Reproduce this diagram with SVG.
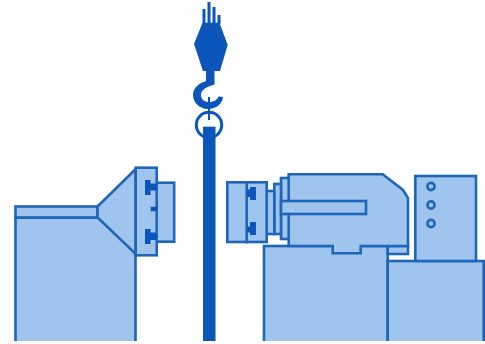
<svg xmlns="http://www.w3.org/2000/svg" width="485" height="344" viewBox="0 0 485 344">
<defs><clipPath id="c"><rect x="0" y="0" width="485" height="341"/></clipPath></defs>
<style>
.b{fill:#9fc4ee;stroke:#1f66b8;stroke-width:2.6;stroke-linejoin:miter}
.d{fill:#0c55bb;stroke:none}
.l{fill:none;stroke:#0c55bb;stroke-width:3}
.r{fill:none;stroke:#1f66b8;stroke-width:2.6}
</style>
<rect width="485" height="344" fill="#fff"/>
<g id="left-machine" clip-path="url(#c)">
<rect class="b" x="15.5" y="217.5" width="120" height="130"/>
<rect class="b" x="15.5" y="206.5" width="82" height="11"/>
<path class="b" d="M97.5 206.5L135.7 169V254L97.5 217.5Z"/>
<rect class="b" x="156.7" y="182.7" width="17.5" height="59"/>
<rect class="b" x="135.7" y="167.7" width="21" height="87.6"/>
<path class="d" d="M145 180h5.5v3.5h6.2v7h-6.2v4.5h-5.5zM145 229h5.5v3.5h6.2v7.5h-6.2v4h-5.5zM150.7 206.7h6v4.6h-6z"/>
</g>
<g id="right-machine" clip-path="url(#c)">
<rect class="b" x="264" y="246" width="123.7" height="102"/>
<rect class="b" x="387.7" y="261" width="96" height="87"/>
<rect class="b" x="415.3" y="176" width="60.7" height="85"/>
<rect class="b" x="387.7" y="246" width="20.3" height="8"/>
<path class="b" d="M288.7 174.3H382.7L403 190L408 198V246H360.7V253.3H332.7V246H288.7Z"/>
<rect class="b" x="281" y="178" width="7.7" height="61"/>
<rect class="b" x="274.3" y="184" width="6.7" height="50"/>
<rect class="b" x="266.7" y="191" width="7.6" height="43"/>
<rect class="b" x="281" y="201" width="85" height="13"/>
<rect class="b" x="246.7" y="182.3" width="20" height="59.7"/>
<rect class="b" x="227.3" y="182.3" width="19.4" height="59.7"/>
<path class="d" d="M247 189.5h3v-2.5h6v13h-6v-3h-3zM247 226.5h3v-4.500h6v13h-6v-2.500h-3z"/>
<g class="r"><circle cx="431" cy="186.5" r="3.6"/><circle cx="431" cy="205" r="3.6"/><circle cx="431" cy="223.5" r="3.6"/></g>
</g>
<g id="crane-hook">
<path class="l" d="M204 9V24M209 2V24M214 7V24M219 15V24"/>
<path class="d" d="M202.5 22.7H219.5L227.7 45L220 71H203L194 44Z"/>
<path class="d" d="M206 70H214.500V84.500C206 87 201 90 201 95C201 99.500 204.500 102 209 102C214 102 217.500 99.500 218.500 96.500L223 97C222.500 104 216 109 208 109C199.500 109 193 102.500 193 95C193 88.500 199 83 206 81Z"/>
<circle class="r" cx="209" cy="125" r="12.7" style="stroke:#0c55bb;stroke-width:3"/>
<path class="l" d="M209 97V120" style="stroke-width:2"/>
<rect class="d" x="203" y="126.7" width="12.5" height="214.3"/>
</g>
</svg>
